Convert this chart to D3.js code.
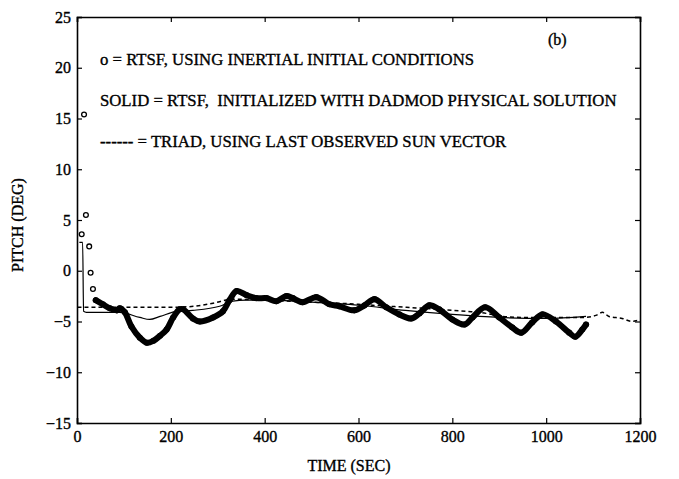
<!DOCTYPE html>
<html>
<head>
<meta charset="utf-8">
<script src="https://cdn.jsdelivr.net/npm/d3@7"></script>
<style>
  body { margin: 0; background: #fff; }
</style>
</head>
<body>
<div id="chart"></div>
<script>
const width = 679
    height = 479
    margin = {top: 17, right: 39, bottom: 56, left: 77};

const serif = "'Liberation Serif', 'Times New Roman', 'DejaVu Serif'";

// circles: RTSF using inertial initial conditions
const circleTime = [10, 15, 19, 26, 29, 34, 40, 55, 70, 85, 91, 102, 116, 134, 149, 163, 177, 191, 205, 219, 226, 247, 262, 290, 311, 325, 340, 361, 382, 404, 425, 446, 460, 481, 510, 538, 559, 591, 613, 634, 659, 687, 712, 730, 751, 772, 800, 826, 843, 870, 900, 928, 947, 970, 992, 1021, 1049, 1062, 1077, 1085];
const circlePitch = [3.6, 15.4, 5.5, 2.4, -0.2, -1.8, -2.9, -3.3, -3.7, -3.9, -3.7, -4.1, -5.5, -6.6, -7.1, -6.9, -6.4, -5.8, -4.6, -3.8, -3.8, -4.7, -5.0, -4.6, -4.0, -2.9, -2.0, -2.4, -2.7, -2.7, -3.0, -2.5, -2.7, -3.1, -2.6, -3.3, -3.5, -3.9, -3.4, -2.8, -3.6, -4.3, -4.7, -4.2, -3.4, -3.8, -4.8, -5.3, -4.6, -3.6, -4.6, -5.6, -6.1, -5.1, -4.3, -5.0, -6.1, -6.5, -5.8, -5.3];

// solid: RTSF initialized with DADMOD physical solution
const solidTime = [5, 12, 14, 20, 60, 91, 134, 155, 177, 212, 247, 304, 332, 360, 400, 500, 600, 700, 800, 900, 1000, 1085];
const solidPitch = [2.8, 2.8, -4.0, -4.1, -4.1, -4.1, -4.6, -4.8, -4.5, -4.0, -3.9, -3.5, -3.0, -2.9, -2.9, -3.1, -3.4, -3.9, -4.3, -4.6, -4.7, -4.5];

// dashed: TRIAD using last observed sun vector
const dashTime = [1, 50, 100, 150, 200, 250, 290, 333, 400, 500, 600, 630, 702, 772, 830, 872, 906, 950, 1021, 1080, 1106, 1120, 1134, 1162, 1183, 1194, 1200];
const dashPitch = [-3.6, -3.6, -3.6, -3.6, -3.6, -3.5, -3.2, -2.8, -2.9, -3.1, -3.3, -3.4, -3.6, -3.8, -4.0, -4.2, -4.5, -4.6, -4.6, -4.6, -4.4, -4.1, -4.5, -4.7, -5.0, -4.9, -4.9];

const xTicks = [0, 200, 400, 600, 800, 1000, 1200];
const yTicks = [-15, -10, -5, 0, 5, 10, 15, 20, 25];

const legendLines = [
    "o = RTSF, USING INERTIAL INITIAL CONDITIONS",
    "SOLID = RTSF,  INITIALIZED WITH DADMOD PHYSICAL SOLUTION",
    "------ = TRIAD, USING LAST OBSERVED SUN VECTOR"
];

let svg = d3.select("div#chart").append("svg")
    .attr("width", width)
    .attr("height", height);

let x = d3.scaleLinear()
    .domain([0, 1200])
    .range([margin.left, width - margin.right]);

let y = d3.scaleLinear()
    .domain([-15, 25])
    .range([height - margin.bottom, margin.top]);

function styleText(sel, size) {
    sel.style("font-family", serif)
        .style("font-size", size + "px")
        .attr("fill", "#000")
        .attr("stroke", "#000")
        .attr("stroke-width", 0.35);
}

// axes, ticks pointing inward
svg.append("g")
    .attr("class", "axis")
    .attr("transform", `translate(0,${height - margin.bottom})`)
    .call(d3.axisBottom(x).tickValues(xTicks).tickSize(-5).tickPadding(8).tickFormat(d3.format("d")))
    .call(g => g.selectAll("text").call(styleText, 16));

svg.append("g")
    .attr("class", "axis")
    .attr("transform", `translate(0,${margin.top})`)
    .call(d3.axisTop(x).tickValues(xTicks).tickSize(-5).tickFormat(""));

svg.append("g")
    .attr("class", "axis")
    .attr("transform", `translate(${margin.left},0)`)
    .call(d3.axisLeft(y).tickValues(yTicks).tickSize(-5).tickPadding(6))
    .call(g => g.selectAll("text").call(styleText, 16));

svg.append("g")
    .attr("class", "axis")
    .attr("transform", `translate(${width - margin.right},0)`)
    .call(d3.axisRight(y).tickValues(yTicks).tickSize(-5).tickFormat(""));

svg.selectAll(".axis path").attr("stroke", "#000").attr("stroke-width", 1.6);
svg.selectAll(".axis line").attr("stroke", "#000").attr("stroke-width", 1.2);

// TRIAD dashed
let dashData = dashTime.map((t, i) => [t, dashPitch[i]]);
svg.append("path")
    .datum(dashData)
    .attr("fill", "none")
    .attr("stroke", "#000")
    .attr("stroke-width", 1.5)
    .attr("stroke-dasharray", "4,3")
    .attr("d", d3.line().x(d => x(d[0])).y(d => y(d[1])).curve(d3.curveMonotoneX));

// solid thin
let solidData = solidTime.map((t, i) => [t, solidPitch[i]]);
svg.append("path")
    .datum(solidData)
    .attr("fill", "none")
    .attr("stroke", "#000")
    .attr("stroke-width", 1.2)
    .attr("d", d3.line().x(d => x(d[0])).y(d => y(d[1])).curve(d3.curveMonotoneX));

// circles: dense markers read as a thick band once they close up
let circleData = circleTime.map((t, i) => [t, circlePitch[i]]);
svg.append("path")
    .datum(circleData.filter(d => d[0] >= 40))
    .attr("fill", "none")
    .attr("stroke", "#000")
    .attr("stroke-width", 6)
    .attr("stroke-linecap", "round")
    .attr("d", d3.line().x(d => x(d[0])).y(d => y(d[1])).curve(d3.curveCatmullRom));

svg.append("g")
    .selectAll("circle")
    .data(circleData)
    .join("circle")
    .attr("cx", d => x(d[0]))
    .attr("cy", d => y(d[1]))
    .attr("r", 2.4)
    .attr("fill", "none")
    .attr("stroke", "#000")
    .attr("stroke-width", 1.3);

// legend text, sized so the long line spans the same width as the original
let legend = svg.append("g")
    .selectAll("text")
    .data(legendLines)
    .join("text")
    .attr("x", 100)
    .attr("y", (d, i) => 65 + i * 41)
    .style("white-space", "pre")
    .call(styleText, 16)
    .text(d => d);

let longLen = legend.nodes()[1].getComputedTextLength();
legend.style("font-size", (16 * 517 / longLen) + "px");

svg.append("text")
    .attr("x", 548)
    .attr("y", 45)
    .call(styleText, 16)
    .text("(b)");

// axis titles
svg.append("text")
    .attr("x", 349)
    .attr("y", 471)
    .attr("text-anchor", "middle")
    .call(styleText, 16)
    .text("TIME (SEC)");

svg.append("text")
    .attr("transform", "translate(23,225) rotate(-90)")
    .attr("text-anchor", "middle")
    .call(styleText, 16)
    .text("PITCH (DEG)");
</script>
</body>
</html>
